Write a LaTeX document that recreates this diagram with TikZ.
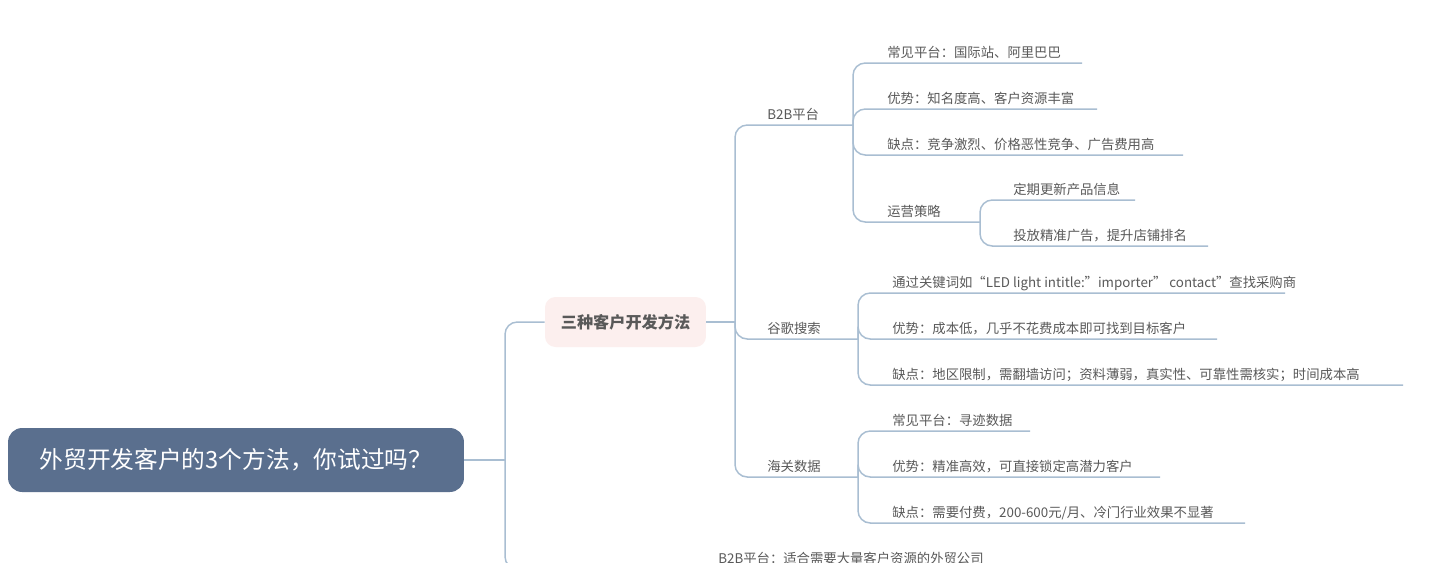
\documentclass[tikz,border=0pt]{standalone}
\usepackage{fontspec}
\setmainfont{Noto Sans CJK SC}
\definecolor{lc}{HTML}{A9BED2}
\definecolor{tc}{HTML}{595959}
\definecolor{rootc}{HTML}{5A6F8E}
\definecolor{pinkc}{HTML}{FCEFEE}
\newcommand\leaf[6]{%
  \node[lbl,anchor=base west] (#1) at (#3,#4-6) {#6};
  \coordinate (#1e) at (#5,#4);
  \draw[ln] (#2) |- (#1e);
}
\begin{document}
\begin{tikzpicture}[x=0.02cm,y=-0.02cm,
  ln/.style={draw=lc,line width=0.85pt,rounded corners=7},
  lbl/.style={text=tc,font=\fontsize{7.6pt}{9pt}\selectfont,inner sep=0pt},
  rootbox/.style={fill=rootc,rounded corners=8,text=white,minimum width=9.12cm,minimum height=1.28cm,font=\fontsize{13.5pt}{16pt}\selectfont},
  pinkbox/.style={fill=pinkc,rounded corners=6,text=tc,minimum width=3.22cm,minimum height=1cm,font=\bfseries\fontsize{9.2pt}{11pt}\selectfont}]
\useasboundingbox[fill=white] (0,0) rectangle (1429,562);
\node[rootbox] (root) at (236,460) {外贸开发客户的3个方法，你试过吗？};
\node[pinkbox] (pink) at (625.5,322) {三种客户开发方法};
\coordinate (j0) at (505,460);
\draw[ln] (root.east) -- (j0);
\draw[ln] (j0) |- (pink.west);
\leaf{bot}{j0}{718}{569}{1010}{B2B平台：适合需要大量客户资源的外贸公司}
\coordinate (j1) at (735,322);
\draw[ln] (pink.east) -- (j1);
\leaf{b2b}{j1}{767}{125}{853}{B2B平台}
\leaf{gg}{j1}{767}{339}{858}{谷歌搜索}
\leaf{hg}{j1}{767}{477}{858}{海关数据}
\leaf{b1}{b2be}{887}{63}{1082}{常见平台：国际站、阿里巴巴}
\leaf{b2}{b2be}{887}{109}{1097}{优势：知名度高、客户资源丰富}
\leaf{b3}{b2be}{887}{155}{1183}{缺点：竞争激烈、价格恶性竞争、广告费用高}
\leaf{b4}{b2be}{887}{222}{980}{运营策略}
\leaf{b41}{b4e}{1013}{200}{1135}{定期更新产品信息}
\leaf{b42}{b4e}{1013}{246}{1208}{投放精准广告，提升店铺排名}
\leaf{g1}{gge}{892}{293}{1285}{通过关键词如“LED light intitle:"importer" contact”查找采购商}
\leaf{g2}{gge}{892}{339}{1217}{优势：成本低，几乎不花费成本即可找到目标客户}
\leaf{g3}{gge}{892}{385}{1403}{缺点：地区限制，需翻墙访问；资料薄弱，真实性、可靠性需核实；时间成本高}
\leaf{h1}{hge}{892}{431}{1030}{常见平台：寻迹数据}
\leaf{h2}{hge}{892}{477}{1160}{优势：精准高效，可直接锁定高潜力客户}
\leaf{h3}{hge}{892}{523}{1245}{缺点：需要付费，200-600元/月、冷门行业效果不显著}
\end{tikzpicture}
\end{document}
